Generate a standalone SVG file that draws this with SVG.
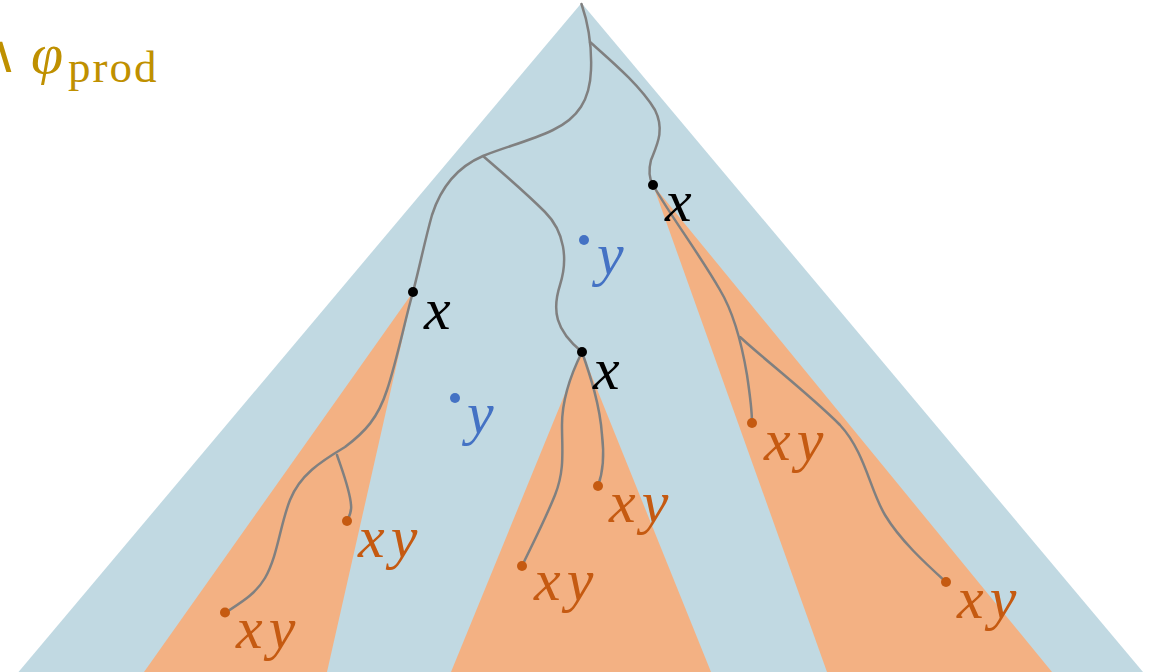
<svg xmlns="http://www.w3.org/2000/svg" width="1155" height="672" viewBox="0 0 1155 672">
<style>
.wire{fill:none;stroke:#808080;stroke-width:2.5;stroke-linecap:round}
.math{font-family:"Liberation Serif","DejaVu Serif",serif;font-style:italic;font-size:60px}
.blk{fill:#000}
.org{fill:#C55A11}
.blu{fill:#4472C4}
.xy{letter-spacing:6px}
.gold{fill:#BF9000;font-family:"Liberation Serif","DejaVu Serif",serif}
</style>
<rect width="1155" height="672" fill="#FFFFFF"/>
<g id="background">
<polygon points="581.5,3 18.5,672 1143,672" fill="#C1D9E2"/>
<polygon points="413,292 144,672 327,672" fill="#F3B183"/>
<polygon points="582,352 451,672 711,672" fill="#F3B183"/>
<polygon points="653,185 827,672 1052,672" fill="#F3B183"/>
</g>
<g id="title">
<text class="gold" x="18" y="72" font-size="52" text-anchor="end" font-family="DejaVu Serif">∧</text>
<text class="gold" x="31" y="73" font-size="58" font-style="italic">φ</text>
<text class="gold" x="68" y="82" font-size="45" letter-spacing="2">prod</text>
</g>
<g id="connectors">
<path class="wire" d="M581.5,4 C587,20 592,45 591,70 C590,100 578,118 553,130 C530,141 505,147 483,156 C455,168 440,190 432,215 C425,240 420,265 413,292"/>
<path class="wire" d="M590,42 C610,60 640,85 655,110 C665,130 657,145 651,160 C648,172 650,180 653,185"/>
<path class="wire" d="M483,156 C505,175 525,192 545,212 C565,232 568,260 560,285 C552,310 555,330 582,352"/>
<path class="wire" d="M413,292 C405,320 397,360 387,390 C378,418 365,432 345,447 C320,462 300,475 290,500 C280,525 278,555 265,578 C255,595 240,603 225,613"/>
<path class="wire" d="M337,455 C342,470 350,490 351,505 C352,512 349,517 347,521"/>
<path class="wire" d="M582,352 C572,372 562,400 562,425 C562,450 565,470 555,495 C545,520 532,545 522,566"/>
<path class="wire" d="M582,352 C590,375 600,405 602,435 C605,460 602,475 598,486"/>
<path class="wire" d="M653,185 C670,215 700,255 720,290 C735,315 742,345 747,375 C750,395 752,410 752,423"/>
<path class="wire" d="M740,337 C765,360 810,395 840,425 C865,452 870,490 885,515 C900,540 925,563 946,582"/>
</g>
<g id="node-x1"><circle cx="413" cy="292" r="5" class="blk"/><text class="math blk" x="424" y="329">x</text></g>
<g id="node-x2"><circle cx="582" cy="352" r="5" class="blk"/><text class="math blk" x="593" y="389">x</text></g>
<g id="node-x3"><circle cx="653" cy="185" r="5" class="blk"/><text class="math blk" x="665" y="221">x</text></g>
<g id="node-y1"><circle cx="455" cy="398" r="5" class="blu"/><text class="math blu" x="467" y="433">y</text></g>
<g id="node-y2"><circle cx="584" cy="240" r="5" class="blu"/><text class="math blu" x="597" y="274">y</text></g>
<g id="leaf-1"><circle cx="225" cy="612.5" r="5" class="org"/><text class="math org xy" x="236" y="648">xy</text></g>
<g id="leaf-2"><circle cx="347" cy="521" r="5" class="org"/><text class="math org xy" x="358" y="557">xy</text></g>
<g id="leaf-3"><circle cx="522" cy="566" r="5" class="org"/><text class="math org xy" x="534" y="600">xy</text></g>
<g id="leaf-4"><circle cx="598" cy="486" r="5" class="org"/><text class="math org xy" x="609" y="522">xy</text></g>
<g id="leaf-5"><circle cx="752" cy="423" r="5" class="org"/><text class="math org xy" x="764" y="460">xy</text></g>
<g id="leaf-6"><circle cx="946" cy="582" r="5" class="org"/><text class="math org xy" x="957" y="618">xy</text></g>
</svg>
